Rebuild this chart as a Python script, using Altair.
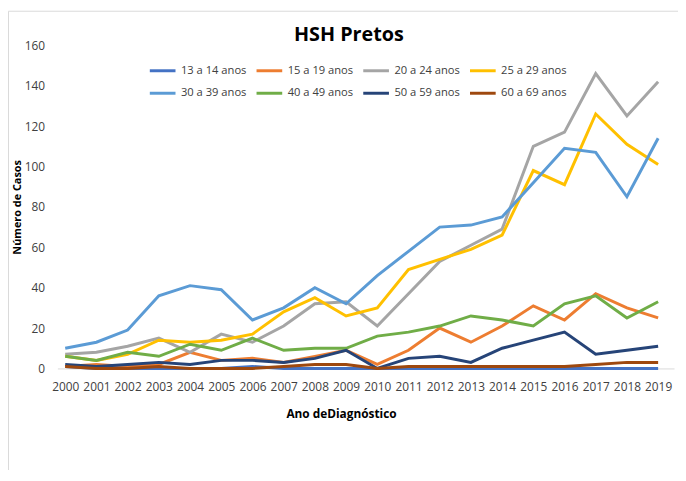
import altair as alt
import pandas as pd

years = list(range(2000, 2020))
series_names = ["13 a 14 anos", "15 a 19 anos", "20 a 24 anos", "25 a 29 anos",
                "30 a 39 anos", "40 a 49 anos", "50 a 59 anos", "60 a 69 anos"]
colors = ["#4472C4", "#ED7D31", "#A5A5A5", "#FFC000",
          "#5B9BD5", "#70AD47", "#264478", "#9E480E"]
chart_title = "HSH Pretos"

s13_14 = [1, 0, 0, 0, 0, 0, 1, 0, 0, 0, 0, 0, 0, 0, 0, 0, 0, 0, 0, 0]
s15_19 = [1, 2, 1, 2, 8, 4, 5, 3, 6, 9, 2, 9, 20, 13, 21, 31, 24, 37, 30, 25]
s20_24 = [7, 8, 11, 15, 8, 17, 13, 21, 32, 33, 21, 37, 53, 61, 69, 110, 117, 146, 125, 142]
s25_29 = [6, 4, 7, 14, 13, 14, 17, 28, 35, 26, 30, 49, 54, 59, 66, 98, 91, 126, 111, 101]
s30_39 = [10, 13, 19, 36, 41, 39, 24, 30, 40, 32, 46, 58, 70, 71, 75, 92, 109, 107, 85, 114]
s40_49 = [6, 4, 8, 6, 12, 9, 15, 9, 10, 10, 16, 18, 21, 26, 24, 21, 32, 36, 25, 33]
s50_59 = [2, 1, 2, 3, 2, 4, 4, 3, 5, 9, 0, 5, 6, 3, 10, 14, 18, 7, 9, 11]
s60_69 = [1, 0, 0, 1, 0, 0, 0, 1, 2, 2, 0, 1, 1, 1, 1, 1, 1, 2, 3, 3]

all_series = [s13_14, s15_19, s20_24, s25_29, s30_39, s40_49, s50_59, s60_69]

rows = []
for name, vals in zip(series_names, all_series):
    for y, v in zip(years, vals):
        rows.append({"Ano": y, "Faixa": name, "Casos": v})
df = pd.DataFrame(rows)

W, H = 624, 327
font = "'Open Sans', sans-serif"

lines = alt.Chart(df).mark_line(strokeWidth=3).encode(
    x=alt.X("Ano:Q",
            scale=alt.Scale(domain=[1999.75, 2019.51], nice=False, zero=False),
            axis=alt.Axis(values=years, format="d", title="Ano deDiagnóstico",
                          grid=False, ticks=False, domainColor="#D9D9D9",
                          labelFontSize=12, labelColor="#404040", labelPadding=13,
                          labelFont=font,
                          titleFontSize=12, titleFontWeight="bold", titleColor="#000000",
                          titleFont=font,
                          titlePadding=17, titleX=287, labelFlush=False)),
    y=alt.Y("Casos:Q",
            scale=alt.Scale(domain=[0, 160], nice=False),
            axis=alt.Axis(values=[0, 20, 40, 60, 80, 100, 120, 140, 160],
                          title="Número de Casos", grid=False, ticks=False, domain=False,
                          labelFontSize=12, labelColor="#404040", labelPadding=13,
                          labelFont=font,
                          titleFontSize=11, titleFontWeight="bold", titleColor="#000000",
                          titleFont=font,
                          titlePadding=2)),
    color=alt.Color("Faixa:N",
                    scale=alt.Scale(domain=series_names, range=colors),
                    legend=alt.Legend(title=None, orient="none", legendX=92, legendY=11,
                                      direction="horizontal",
                                      columns=4, symbolType="stroke", symbolSize=676,
                                      symbolStrokeWidth=3, labelFontSize=11.3,
                                      labelFont=font,
                                      labelColor="#404040", labelOffset=4,
                                      columnPadding=3, rowPadding=2,
                                      labelLimit=200)),
)

border = alt.Chart(pd.DataFrame({"a": [0]})).mark_rect(
    fill=None, stroke="#D9D9D9", strokeWidth=1
).encode(x=alt.value(-49.5), x2=alt.value(W + 20), y=alt.value(-34.5), y2=alt.value(H + 120))

title = alt.Chart(pd.DataFrame({"t": [chart_title]})).mark_text(
    fontSize=20, fontWeight="bold", font=font, color="#000000",
    align="center", baseline="middle"
).encode(text="t:N", x=alt.value(295), y=alt.value(-10))

chart = alt.layer(border, lines, title).properties(
    width=W, height=H,
    autosize=alt.AutoSizeParams(type="none"),
    padding={"left": 50, "top": 35, "right": 4, "bottom": 100},
).configure_view(stroke=None)

chart.save("out.html", embed_options={"renderer": "svg", "actions": False})
